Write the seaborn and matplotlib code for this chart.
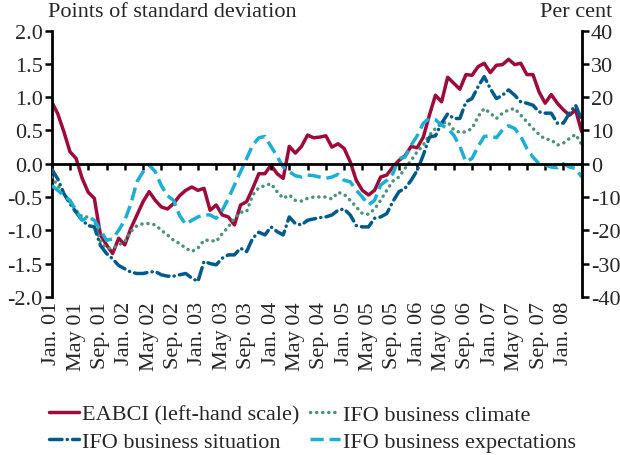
import numpy as np
import pandas as pd
import matplotlib
matplotlib.use("Agg")
import matplotlib.pyplot as plt
import seaborn as sns

# ---------------- data ----------------
months = pd.date_range("2001-01-01", "2008-04-01", freq="MS")  # 88 monthly points

# EABCI, points of standard deviation (left-hand scale)
eabci = [0.93, 0.75, 0.48, 0.18, 0.08, -0.22, -0.43, -0.52, -1.07, -1.22,
         -1.35, -1.12, -1.22, -0.97, -0.77, -0.57, -0.42, -0.55, -0.65, -0.68,
         -0.60, -0.48, -0.40, -0.35, -0.40, -0.37, -0.70, -0.62, -0.77, -0.80,
         -0.92, -0.62, -0.57, -0.37, -0.15, -0.15, -0.02, -0.15, -0.22, 0.26,
         0.16, 0.26, 0.43, 0.39, 0.40, 0.42, 0.25, 0.30, 0.23, 0.03,
         -0.25, -0.40, -0.47, -0.40, -0.20, -0.17, -0.05, 0.05, 0.12, 0.26,
         0.24, 0.40, 0.73, 1.03, 0.93, 1.30, 1.21, 1.12, 1.34, 1.33,
         1.46, 1.51, 1.37, 1.48, 1.49, 1.57, 1.49, 1.51, 1.34, 1.34,
         1.08, 0.91, 1.04, 0.91, 0.81, 0.73, 0.81, 0.48]

# IFO series, per cent (right-hand scale)
ifo_climate = [-4.0, -6.6, -9.0, -11.6, -14.0, -16.0, -16.0, -17.0, -23.4, -25.4,
               -25.4, -24.4, -23.4, -20.4, -18.6, -18.0, -18.0, -18.4, -20.0, -21.4,
               -23.0, -24.0, -25.4, -26.4, -25.4, -23.0, -23.0, -23.4, -21.0, -19.0,
               -16.4, -14.6, -14.4, -9.4, -7.2, -6.6, -6.0, -8.4, -10.4, -9.4,
               -11.0, -11.2, -10.4, -10.0, -10.0, -10.0, -10.6, -8.6, -9.2, -11.0,
               -13.0, -15.0, -15.2, -13.6, -11.0, -8.0, -5.2, -4.0, -1.4, 1.0,
               3.6, 5.6, 8.6, 10.6, 12.2, 12.6, 10.2, 9.4, 9.6, 10.6,
               14.2, 16.6, 15.2, 13.6, 15.2, 16.2, 16.6, 14.6, 12.6, 10.6,
               8.8, 7.4, 7.2, 5.6, 6.2, 7.6, 8.8, 5.8]

ifo_situation = [-1.6, -4.6, -9.0, -12.0, -14.6, -17.0, -18.6, -19.0, -24.6, -27.0,
                 -28.6, -30.6, -31.6, -32.6, -33.0, -33.0, -32.6, -32.4, -33.4, -33.8,
                 -33.8, -33.4, -33.0, -34.4, -35.4, -29.4, -30.0, -30.4, -28.4, -27.4,
                 -27.4, -25.4, -26.4, -22.4, -20.6, -21.4, -19.0, -20.4, -21.4, -16.0,
                 -18.0, -18.4, -17.0, -16.6, -16.2, -16.0, -15.4, -14.0, -13.6, -15.4,
                 -18.6, -19.0, -19.0, -16.4, -16.0, -15.0, -11.4, -8.4, -7.4, -5.0,
                 -2.0, 2.6, 8.0, 8.4, 12.2, 15.0, 13.6, 13.6, 18.6, 19.6,
                 23.2, 26.2, 22.6, 19.6, 20.6, 22.2, 20.6, 18.6, 18.2, 17.6,
                 15.6, 15.2, 15.2, 12.2, 12.2, 15.2, 17.6, 13.2]

ifo_expect = [-6.6, -8.0, -9.6, -11.0, -14.0, -17.0, -16.0, -17.0, -20.0, -23.0,
              -22.6, -20.0, -17.0, -12.0, -5.4, -2.4, -0.4, -2.4, -6.6, -9.6,
              -11.0, -15.6, -18.2, -17.0, -16.0, -15.4, -15.4, -16.4, -14.0, -10.4,
              -6.4, -2.4, 1.6, 5.6, 7.8, 8.2, 5.2, 2.2, -1.0, -2.4,
              -3.6, -4.0, -3.4, -3.6, -4.0, -4.4, -4.0, -3.2, -5.0, -5.4,
              -8.0, -10.0, -12.4, -11.0, -6.4, -5.0, -3.0, 1.6, 2.0, 5.6,
              8.4, 12.2, 13.6, 13.2, 11.6, 10.6, 8.6, 5.2, 0.6, 1.6,
              5.2, 8.2, 8.4, 7.8, 10.2, 11.4, 10.6, 8.2, 4.6, 2.0,
              0.0, -0.4, -1.0, -1.2, 0.0, -1.0, -1.4, -4.0]

tick_labels = ["Jan. 01", "May 01", "Sep. 01", "Jan. 02", "May 02", "Sep. 02",
               "Jan. 03", "May 03", "Sep. 03", "Jan. 04", "May 04", "Sep. 04",
               "Jan. 05", "May 05", "Sep. 05", "Jan. 06", "May 06", "Sep. 06",
               "Jan. 07", "May 07", "Sep. 07", "Jan. 08"]

left_ticks = [-2.0, -1.5, -1.0, -0.5, 0.0, 0.5, 1.0, 1.5, 2.0]
right_ticks = [-40, -30, -20, -10, 0, 10, 20, 30, 40]

series_names = ["EABCI (left-hand scale)", "IFO business climate",
                "IFO business situation", "IFO business expectations"]

# ---------------- style ----------------
sns.set_theme(style="white")
plt.rcParams['font.family'] = ['Liberation Serif', 'DejaVu Serif']
plt.rcParams['axes.unicode_minus'] = False

C_EABCI = "#9E0B3A"
C_CLIM = "#4B9477"
C_SIT = "#005B8C"
C_EXP = "#1AAFD6"
FS = 16
TFS = 16

df = pd.DataFrame({"idx": np.arange(len(months)), "eabci": eabci,
                   "climate": ifo_climate, "situation": ifo_situation,
                   "expect": ifo_expect})

fig = plt.figure(figsize=(6.2, 4.56), dpi=100)
rect = [0.0834, 0.347, 0.8548, 0.5835]
ax = fig.add_axes(rect)
ax2 = fig.add_axes(rect)
ax2.patch.set_visible(False)

n = len(months)
xlim = (0, n - 1)

# left axis: EABCI
sns.lineplot(data=df, x="idx", y="eabci", ax=ax, color=C_EABCI, lw=2.5,
             legend=False, label=series_names[0])

# right axis: IFO series
sns.lineplot(data=df, x="idx", y="climate", ax=ax2, color=C_CLIM, lw=2.5,
             linestyle=(0, (0.05, 1.7)), dash_capstyle="round",
             legend=False, label=series_names[1])
sns.lineplot(data=df, x="idx", y="situation", ax=ax2, color=C_SIT, lw=2.5,
             linestyle=(0, (3.6, 1.5, 0.05, 1.5)), dash_capstyle="round",
             legend=False, label=series_names[2])
sns.lineplot(data=df, x="idx", y="expect", ax=ax2, color=C_EXP, lw=2.5,
             linestyle=(0, (3.8, 1.7)), legend=False, label=series_names[3])

# ---- primary axes formatting ----
ax.set_xlim(*xlim)
ax.set_ylim(-2.0, 2.0)
ax.set_yticks(left_ticks)
ax.set_yticklabels([f"{v:.1f}" for v in left_ticks], fontsize=TFS)
ax.set_xticks(df["idx"][::4])
ax.set_xticklabels(tick_labels, rotation=90, fontsize=TFS)
ax.tick_params(axis="x", length=0, pad=3)
ax.tick_params(axis="y", direction="out", length=5, width=1.8, color="black",
               left=True, pad=1.5)
for s in ["top", "right", "bottom"]:
    ax.spines[s].set_visible(False)
ax.spines["left"].set_linewidth(2.0)
ax.spines["left"].set_color("black")
ax.set_xlabel("")
ax.set_ylabel("")
ax.grid(False)

# ---- secondary axes formatting ----
ax2.set_xlim(*xlim)
ax2.set_ylim(-40, 40)
ax2.yaxis.tick_right()
ax2.set_yticks(right_ticks)
ax2.set_yticklabels([str(v) for v in right_ticks], fontsize=TFS)
ax2.tick_params(axis="y", direction="out", length=5, width=1.8, color="black",
                right=True, left=False, pad=1.5)
ax2.spines["bottom"].set_position(("data", 0))
ax2.spines["bottom"].set_linewidth(2.0)
ax2.spines["bottom"].set_color("black")
ax2.spines["right"].set_linewidth(2.0)
ax2.spines["right"].set_color("black")
ax2.spines["left"].set_visible(False)
ax2.spines["top"].set_visible(False)
ax2.xaxis.set_ticks_position("bottom")
ax2.set_xticks(df["idx"][::3])
ax2.set_xticklabels([])
ax2.tick_params(axis="x", direction="out", length=4, width=1.8, color="black",
                bottom=True)
ax2.set_xlabel("")
ax2.set_ylabel("")
ax2.grid(False)

# ---- titles ----
fig.text(0.077, 0.972, "Points of standard deviation", ha="left", va="center",
         fontsize=FS)
fig.text(0.988, 0.972, "Per cent", ha="right", va="center", fontsize=FS)

# ---- legend ----
h1 = ax.get_lines()[0]
l2 = ax2.get_lines()
handles = [h1, l2[1], l2[0], l2[2]]
labels = [series_names[0], series_names[2], series_names[1], series_names[3]]
fig.legend(handles, labels, ncol=2, loc="upper left",
           bbox_to_anchor=(0.079, 0.111), frameon=False, fontsize=FS,
           handlelength=1.35, handletextpad=0.15, columnspacing=0.45,
           labelspacing=0.3, borderaxespad=0, borderpad=0)

fig.savefig("out.png", dpi=100)
